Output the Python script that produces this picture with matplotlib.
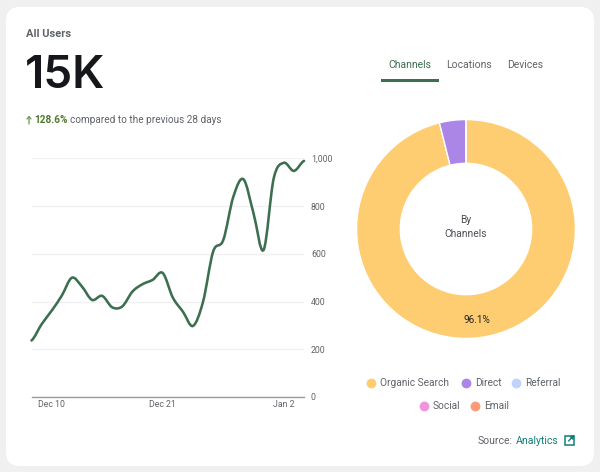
import matplotlib
matplotlib.use("Agg")
import matplotlib.pyplot as plt
from matplotlib.patches import FancyBboxPatch, PathPatch, Rectangle
from matplotlib.path import Path

plt.rcParams["font.family"] = ["Roboto", "DejaVu Sans"]

# daily users, Dec 8 - Jan 4
users = [237, 305, 362, 425, 500, 463, 407, 424, 376, 380, 442, 473, 491, 520,
         417, 358, 298, 400, 610, 658, 840, 913, 770, 617, 917, 982, 948, 990]
tick_days = [2, 13, 25]
tick_labels = ["Dec 10", "Dec 21", "Jan 2"]
y_ticks = [0, 200, 400, 600, 800, 1000]

channels = ["Organic Search", "Direct", "Referral", "Social", "Email"]
shares = [96.1, 3.9, 0, 0, 0]
channel_colors = ["#fecd72", "#ab86e6", "#c0d4fb", "#ee95dc", "#fc9a78"]

W, H = 600, 472
GREEN = "#3c6e50"
GREY = "#5f6368"

fig = plt.figure(figsize=(W / 100, H / 100), dpi=100, facecolor="#f0f0f0")


def px_axes(left, top, right, bottom, **kw):
    return fig.add_axes([left / W, 1 - bottom / H, (right - left) / W, (bottom - top) / H], **kw)


# overlay in pixel coords for the card and all the loose text
bg = fig.add_axes([0, 0, 1, 1])
bg.set_xlim(0, W)
bg.set_ylim(H, 0)
bg.axis("off")
bg.add_patch(FancyBboxPatch((6 + 14, 7 + 14), 588 - 28, 459 - 28,
                            boxstyle="round,pad=14,rounding_size=14",
                            fc="white", ec="none"))

bg.text(26, 34, "All Users", fontsize=8, fontweight="bold", color=GREY, va="center")
bg.text(25, 75.5, "15K", fontsize=33, fontweight="semibold", family="Inter", color="#15171a", va="center")
bg.annotate("", xy=(29, 115.5), xytext=(29, 124),
            arrowprops=dict(arrowstyle="->,head_width=0.14,head_length=0.18", color="#6b9a55", lw=0.9,
                            shrinkA=0, shrinkB=0))
bg.text(34, 120, "128.6%", fontsize=7.2, fontweight="bold", color="#4d7a2a", va="center")
bg.text(70, 120, "compared to the previous 28 days", fontsize=7.2, color=GREY, va="center")

# tabs
bg.text(410, 64.5, "Channels", fontsize=7.5, color=GREEN, ha="center", va="center")
bg.text(469, 64.5, "Locations", fontsize=7.5, color=GREY, ha="center", va="center")
bg.text(525, 64.5, "Devices", fontsize=7.5, color=GREY, ha="center", va="center")
bg.add_patch(Rectangle((381, 78.5), 58, 3, fc=GREEN, ec="none"))

# line chart
ax = px_axes(31.5, 158.5, 304, 397)
ax.set_facecolor("none")
ax.set_xlim(0, len(users) - 1)
ax.set_ylim(0, 1000)
ax.yaxis.tick_right()
ax.set_yticks(y_ticks)
ax.set_yticklabels([f"{v:,}" for v in y_ticks])
ax.set_xticks(tick_days)
ax.set_xticklabels(tick_labels)
ax.tick_params(length=0, labelsize=6.3, labelcolor=GREY)
ax.tick_params(axis="y", pad=5)
ax.tick_params(axis="x", pad=2.5)
ax.grid(axis="y", color="#f1f1f3", lw=1)
ax.set_axisbelow(True)
for side in ["top", "left", "right"]:
    ax.spines[side].set_visible(False)
ax.spines["bottom"].set_color("#9a9a9a")
ax.spines["bottom"].set_linewidth(1)

# smooth the line with bezier segments through the daily values
verts = [(0, users[0])]
codes = [Path.MOVETO]
for i in range(len(users) - 1):
    y0 = users[max(i - 1, 0)]
    y1, y2 = users[i], users[i + 1]
    y3 = users[min(i + 2, len(users) - 1)]
    verts += [(i + 1 / 3, y1 + (y2 - y0) / 6), (i + 2 / 3, y2 - (y3 - y1) / 6), (i + 1, y2)]
    codes += [Path.CURVE4] * 3
ax.add_patch(PathPatch(Path(verts, codes), fc="none", ec=GREEN, lw=1.85, clip_on=False, capstyle="round"))

# donut
pie_ax = px_axes(356, 119, 576, 339)
pie_ax.pie(shares, colors=channel_colors, startangle=90, counterclock=False, radius=1,
           wedgeprops=dict(width=0.4, edgecolor="white", linewidth=1))
pie_ax.set_xlim(-1.005, 1.005)
pie_ax.set_ylim(-1.005, 1.005)
pie_ax.text(0, 0.08, "By", fontsize=7.4, color="#4a4d52", ha="center", va="center")
pie_ax.text(0, -0.05, "Channels", fontsize=7.4, color="#4a4d52", ha="center", va="center")
pie_ax.text(0.1, -0.83, f"{shares[0]}%", fontsize=7.2, color="#202124", ha="center", va="center")

# legend
legend_xy = [(371, 383), (466, 383), (516, 383), (424, 406), (475, 406)]
for name, color, (lx, ly) in zip(channels, channel_colors, legend_xy):
    bg.scatter([lx], [ly], s=50, color=color, linewidths=0)
    bg.text(lx + 9, ly, name, fontsize=7.3, color=GREY, va="center")

# source
bg.text(478, 440.5, "Source:", fontsize=7.5, color=GREY, va="center")
bg.text(515.5, 440.5, "Analytics", fontsize=7.6, color="#12807a", va="center")
bg.add_patch(Rectangle((565, 436), 8.5, 8.5, fc="none", ec="#12807a", lw=1.1))
bg.annotate("", xy=(574.5, 435), xytext=(568.5, 441),
            arrowprops=dict(arrowstyle="-|>,head_width=0.13,head_length=0.2", color="#12807a", lw=1.0,
                            shrinkA=0, shrinkB=0))

fig.savefig("out.png", dpi=100, facecolor=fig.get_facecolor())
